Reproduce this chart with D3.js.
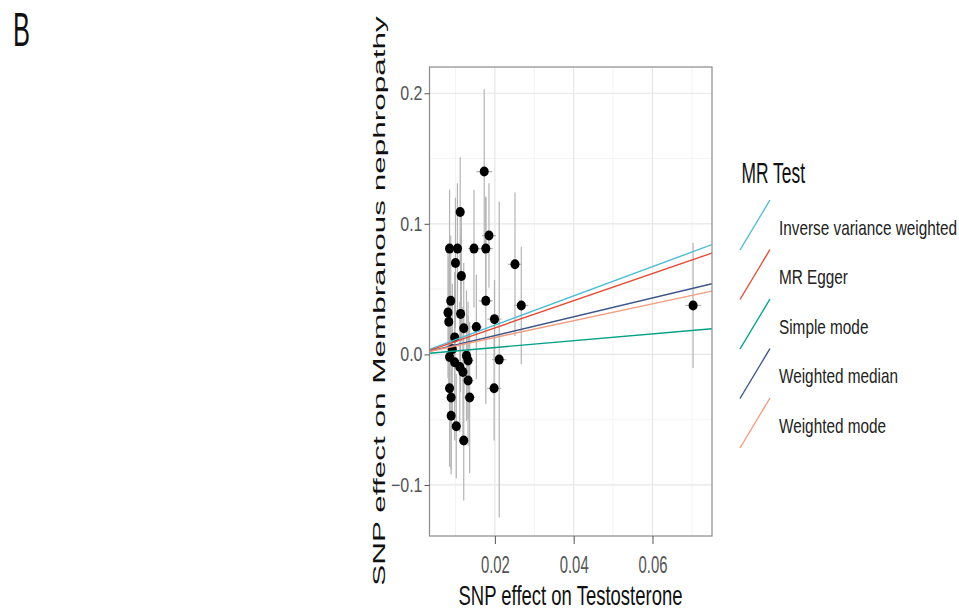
<!DOCTYPE html>
<html>
<head>
<meta charset="utf-8">
<script src="https://cdn.jsdelivr.net/npm/d3@7"></script>
<style>
  html, body { margin: 0; padding: 0; background: #ffffff; }
  svg { display: block; font-family: "Liberation Sans", Arial, sans-serif; }
</style>
</head>
<body>
<svg id="chart" width="959" height="613"></svg>
<script>
// ---------------- data ----------------
const snpX = [0.0173, 0.0112, 0.0085, 0.0105, 0.0147, 0.0185, 0.0177, 0.0100, 0.0115, 0.0251,
              0.0088, 0.0177, 0.0267, 0.0703, 0.0081, 0.0113, 0.0083, 0.0199, 0.0153, 0.0121,
              0.0098, 0.0211, 0.0085, 0.0098, 0.0111, 0.0132, 0.0119, 0.0132, 0.0198, 0.0085,
              0.0089, 0.0136, 0.0089, 0.0102, 0.0121, 0.0092, 0.0128];
const snpY = [0.140, 0.109, 0.081, 0.081, 0.081, 0.091, 0.081, 0.070, 0.060, 0.069,
              0.041, 0.041, 0.0375, 0.0375, 0.032, 0.031, 0.025, 0.027, 0.021, 0.020,
              0.013, -0.004, -0.002, -0.006, -0.0097, -0.0046, -0.0135, -0.020, -0.026, -0.026,
              -0.033, -0.033, -0.047, -0.055, -0.066, 0.004, -0.001];
const seY  = [0.063, 0.042, 0.045, 0.050, 0.045, 0.040, 0.040, 0.050, 0.050, 0.055,
              0.050, 0.079, 0.045, 0.048, 0.050, 0.060, 0.050, 0.030, 0.040, 0.050,
              0.050, 0.121, 0.050, 0.060, 0.050, 0.045, 0.050, 0.050, 0.040, 0.060,
              0.055, 0.058, 0.045, 0.040, 0.046, 0.050, 0.050];
const seX  = [0.0020, 0.0012, 0.0010, 0.0012, 0.0015, 0.0018, 0.0018, 0.0012, 0.0012, 0.0018,
              0.0010, 0.0018, 0.0018, 0.0020, 0.0010, 0.0012, 0.0010, 0.0018, 0.0015, 0.0012,
              0.0012, 0.0018, 0.0010, 0.0012, 0.0012, 0.0014, 0.0012, 0.0014, 0.0018, 0.0010,
              0.0010, 0.0014, 0.0010, 0.0012, 0.0012, 0.0010, 0.0012];

const methods    = ["Inverse variance weighted", "MR Egger", "Simple mode", "Weighted median", "Weighted mode"];
const slopes     = [1.12, 1.04, 0.262, 0.72, 0.645];
const intercepts = [0, -0.0005, 0, 0, 0];
const methodColors = ["#4DBBD5", "#E64B35", "#00A087", "#3C5488", "#F39B7F"];

const xTicks = [0.02, 0.04, 0.06];
const xMinor = [0.01, 0.03, 0.05, 0.07];
const yTicks = [-0.1, 0.0, 0.1, 0.2];
const yMinor = [-0.05, 0.05, 0.15];

const xTitle = "SNP effect on Testosterone";
const yTitle = "SNP effect on Membranous nephropathy";
const legendTitle = "MR Test";
const panelLabel = "B";

// ---------------- layout ----------------
const panel = { left: 429.5, right: 712, top: 67, bottom: 536 };
const x = d3.scaleLinear().domain([0.00341, 0.0751]).range([panel.left, panel.right]);
const y = d3.scaleLinear().domain([0.2201, -0.1391]).range([panel.top, panel.bottom]);

const svg = d3.select("#chart");

function stext(g, str, tx, ty, size, sx, anchor, fill, extra) {
  return g.append("text")
    .attr("transform", `translate(${tx},${ty}) scale(${sx},1)` + (extra || ""))
    .attr("text-anchor", anchor)
    .attr("font-size", size)
    .attr("fill", fill)
    .text(str);
}

// panel background + grid
svg.append("rect").attr("x", panel.left).attr("y", panel.top)
  .attr("width", panel.right - panel.left).attr("height", panel.bottom - panel.top)
  .attr("fill", "#ffffff");

const grid = svg.append("g");
grid.selectAll(".vmin").data(xMinor).join("line")
  .attr("x1", d => x(d)).attr("x2", d => x(d))
  .attr("y1", panel.top).attr("y2", panel.bottom)
  .attr("stroke", "#f0f0f0").attr("stroke-width", 0.8);
grid.selectAll(".hmin").data(yMinor).join("line")
  .attr("y1", d => y(d)).attr("y2", d => y(d))
  .attr("x1", panel.left).attr("x2", panel.right)
  .attr("stroke", "#f0f0f0").attr("stroke-width", 0.8);
grid.selectAll(".vmaj").data(xTicks).join("line")
  .attr("x1", d => x(d)).attr("x2", d => x(d))
  .attr("y1", panel.top).attr("y2", panel.bottom)
  .attr("stroke", "#e6e6e6").attr("stroke-width", 1.2);
grid.selectAll(".hmaj").data(yTicks).join("line")
  .attr("y1", d => y(d)).attr("y2", d => y(d))
  .attr("x1", panel.left).attr("x2", panel.right)
  .attr("stroke", "#e6e6e6").attr("stroke-width", 1.2);

// clip
svg.append("clipPath").attr("id", "clip").append("rect")
  .attr("x", panel.left).attr("y", panel.top)
  .attr("width", panel.right - panel.left).attr("height", panel.bottom - panel.top);

const plot = svg.append("g").attr("clip-path", "url(#clip)");
const idx = d3.range(snpX.length);

// error bars
plot.selectAll(".ebv").data(idx).join("line")
  .attr("x1", i => x(snpX[i])).attr("x2", i => x(snpX[i]))
  .attr("y1", i => y(snpY[i] - seY[i])).attr("y2", i => y(snpY[i] + seY[i]))
  .attr("stroke", "#b4b4b4").attr("stroke-width", 1.2);
plot.selectAll(".ebh").data(idx).join("line")
  .attr("x1", i => x(snpX[i] - seX[i])).attr("x2", i => x(snpX[i] + seX[i]))
  .attr("y1", i => y(snpY[i])).attr("y2", i => y(snpY[i]))
  .attr("stroke", "#b4b4b4").attr("stroke-width", 1.2);

// points
plot.selectAll(".pt").data(idx).join("ellipse")
  .attr("cx", i => x(snpX[i])).attr("cy", i => y(snpY[i]))
  .attr("rx", 4.5).attr("ry", 5)
  .attr("fill", "#000000");

// MR lines
const xd = x.domain();
plot.selectAll(".mr").data(d3.range(methods.length)).join("line")
  .attr("x1", x(xd[0])).attr("x2", x(xd[1]))
  .attr("y1", k => y(intercepts[k] + slopes[k] * xd[0]))
  .attr("y2", k => y(intercepts[k] + slopes[k] * xd[1]))
  .attr("stroke", k => methodColors[k]).attr("stroke-width", 1.4);

// border
svg.append("rect").attr("x", panel.left).attr("y", panel.top)
  .attr("width", panel.right - panel.left).attr("height", panel.bottom - panel.top)
  .attr("fill", "none").attr("stroke", "#8a8a8a").attr("stroke-width", 1.2);

// axes
const xAxis = svg.append("g").attr("transform", `translate(0,${panel.bottom})`)
  .call(d3.axisBottom(x).tickValues(xTicks).tickFormat(d3.format(".2f")).tickSize(8).tickPadding(4));
xAxis.select(".domain").remove();
xAxis.selectAll("line").attr("stroke", "#555");
xAxis.selectAll("text")
  .attr("font-size", 24).attr("fill", "#555")
  .attr("font-family", "Liberation Sans, Arial, sans-serif")
  .attr("y", 20).attr("dy", "0.71em")
  .attr("transform", "scale(0.62,1)");

const yAxis = svg.append("g").attr("transform", `translate(${panel.left},0)`)
  .call(d3.axisLeft(y).tickValues(yTicks).tickFormat(d3.format(".1f")).tickSize(5).tickPadding(3));
yAxis.select(".domain").remove();
yAxis.selectAll("line").attr("stroke", "#555");
yAxis.selectAll("text")
  .attr("font-size", 20).attr("fill", "#555")
  .attr("font-family", "Liberation Sans, Arial, sans-serif")
  .attr("x", -7 / 0.8)
  .attr("transform", "scale(0.8,1)");

// titles
stext(svg, xTitle, 570.5, 605, 28, 0.66, "middle", "#111");
svg.append("text")
  .attr("transform", "translate(384.5,301) scale(0.5,1) rotate(-90)")
  .attr("text-anchor", "middle").attr("font-size", 31.5).attr("fill", "#111")
  .text(yTitle);
stext(svg, panelLabel, 13, 46, 49, 0.52, "start", "#111");

// legend
const leg = svg.append("g");
stext(leg, legendTitle, 741.5, 183, 29, 0.6, "start", "#111");
const legItems = leg.selectAll(".li").data(d3.range(methods.length)).join("g");
legItems.append("line")
  .attr("x1", 740).attr("x2", 770)
  .attr("y1", k => 250 + 49.5 * k).attr("y2", k => 200 + 49.5 * k)
  .attr("stroke", k => methodColors[k]).attr("stroke-width", 1.4);
legItems.each(function(k) {
  stext(d3.select(this), methods[k], 779, 234.5 + 49.5 * k, 21, 0.73, "start", "#222");
});
</script>
</body>
</html>
